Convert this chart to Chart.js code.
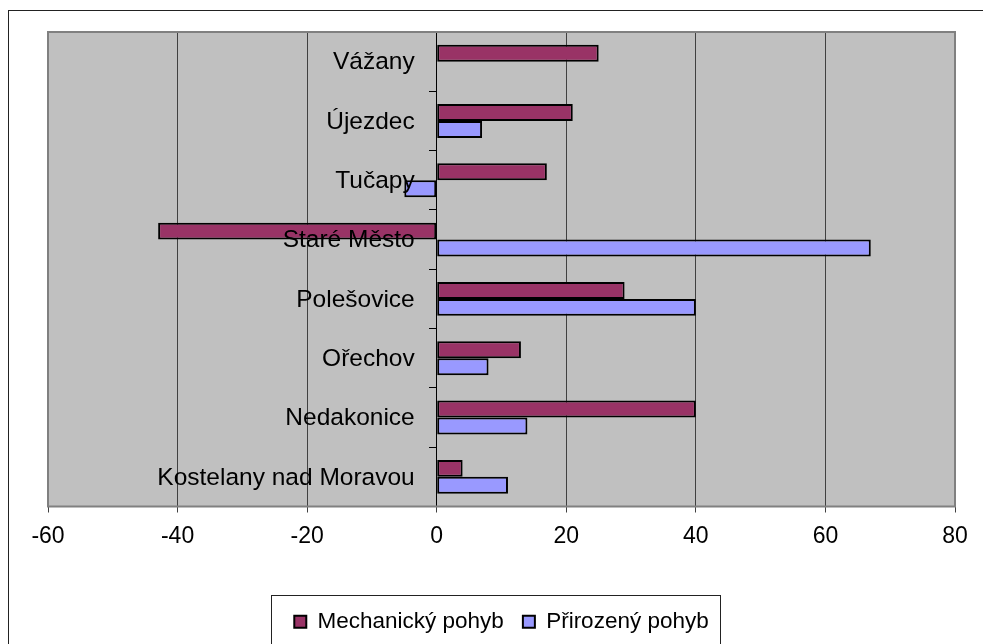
<!DOCTYPE html>
<html>
<head>
<meta charset="utf-8">
<script src="https://cdn.jsdelivr.net/npm/chart.js@4"></script>
<style>
  html, body { margin: 0; padding: 0; background: #fff; }
  #wrap { width: 983px; height: 644px; }
</style>
</head>
<body>
<div id="wrap"><canvas id="chart"></canvas></div>
<script>
const obce = ['Vážany','Újezdec','Tučapy','Staré Město','Polešovice','Ořechov','Nedakonice','Kostelany nad Moravou'];
const mechanicky = [25, 21, 17, -43, 29, 13, 40, 4];
const prirozeny = [null, 7, -5, 67, 40, 8, 14, 11];
const seriesNames = ['Mechanický pohyb', 'Přirozený pohyb'];
const xMin = -60, xMax = 80, xStep = 20;

const fontFamily = "'Liberation Sans', Arial, sans-serif";
Chart.defaults.font.family = fontFamily;
Chart.defaults.color = '#000';

// grey plot area, outer frame and legend box like the Excel original
const framePlugin = {
  id: 'frame',
  beforeDraw(chart) {
    const ctx = chart.ctx, a = chart.chartArea;
    ctx.save();
    ctx.fillStyle = '#fff';
    ctx.fillRect(0, 0, chart.width, chart.height);
    ctx.strokeStyle = '#222';
    ctx.lineWidth = 1;
    ctx.strokeRect(8.5, 10.5, chart.width + 20, chart.height + 20);
    ctx.fillStyle = '#c0c0c0';
    ctx.fillRect(a.left, a.top, a.right - a.left, a.bottom - a.top);
    ctx.restore();
  },
  afterDraw(chart) {
    const ctx = chart.ctx, a = chart.chartArea;
    ctx.save();
    ctx.strokeStyle = '#808080';
    ctx.lineWidth = 2;
    ctx.strokeRect(a.left, a.top, a.right - a.left, a.bottom - a.top);
    const boxes = chart.legend.legendHitBoxes;
    if (boxes && boxes.length) {
      const l = boxes[0].left - 23;
      const r = boxes[boxes.length - 1].left + boxes[boxes.length - 1].width + 12;
      ctx.strokeStyle = '#222';
      ctx.lineWidth = 1;
      ctx.strokeRect(Math.round(l) + 0.5, 595.5, Math.round(r - l), 80);
    }
    ctx.restore();
  }
};

// category names sit left of the zero axis and on top of the bars
const categoryLabels = {
  id: 'categoryLabels',
  afterDatasetsDraw(chart) {
    const ctx = chart.ctx, ys = chart.scales.y, xs = chart.scales.x;
    const x0 = xs.getPixelForValue(0);
    ctx.save();
    ctx.font = '24.5px ' + fontFamily;
    ctx.fillStyle = '#000';
    ctx.textAlign = 'right';
    ctx.textBaseline = 'middle';
    ys.ticks.forEach((t, i) => {
      ctx.fillText(ys.getLabelForValue(t.value), x0 - 22, ys.getPixelForTick(i) + 1);
    });
    ctx.restore();
  }
};

new Chart(document.getElementById('chart'), {
  type: 'bar',
  data: {
    labels: obce,
    datasets: [
      { label: seriesNames[0], data: mechanicky, backgroundColor: '#993366', borderColor: '#000', borderWidth: 2, borderSkipped: false },
      { label: seriesNames[1], data: prirozeny, backgroundColor: '#9999ff', borderColor: '#000', borderWidth: 2, borderSkipped: false }
    ]
  },
  options: {
    indexAxis: 'y',
    responsive: true,
    maintainAspectRatio: false,
    animation: false,
    datasets: { bar: { categoryPercentage: 0.571, barPercentage: 1 } },
    layout: { padding: { left: 48, right: 28, top: 32, bottom: 1 } },
    plugins: {
      tooltip: { enabled: false },
      legend: {
        position: 'bottom',
        labels: { font: { size: 22.5 }, boxWidth: 12, boxHeight: 12, padding: 19, color: '#000' }
      }
    },
    scales: {
      x: {
        type: 'linear',
        min: xMin, max: xMax,
        ticks: { stepSize: xStep, font: { size: 23 }, padding: 10, color: '#000' },
        grid: { color: '#404040', lineWidth: 1, tickLength: 6 },
        border: { display: false },
        afterFit(scale) { scale.height = 85; }
      },
      y: {
        type: 'category',
        position: { x: 0 },
        ticks: { display: false, autoSkip: false },
        grid: { drawOnChartArea: false, tickLength: 7, color: '#000', offset: true },
        border: { color: '#000', width: 1 }
      }
    }
  },
  plugins: [framePlugin, categoryLabels]
});
</script>
</body>
</html>
